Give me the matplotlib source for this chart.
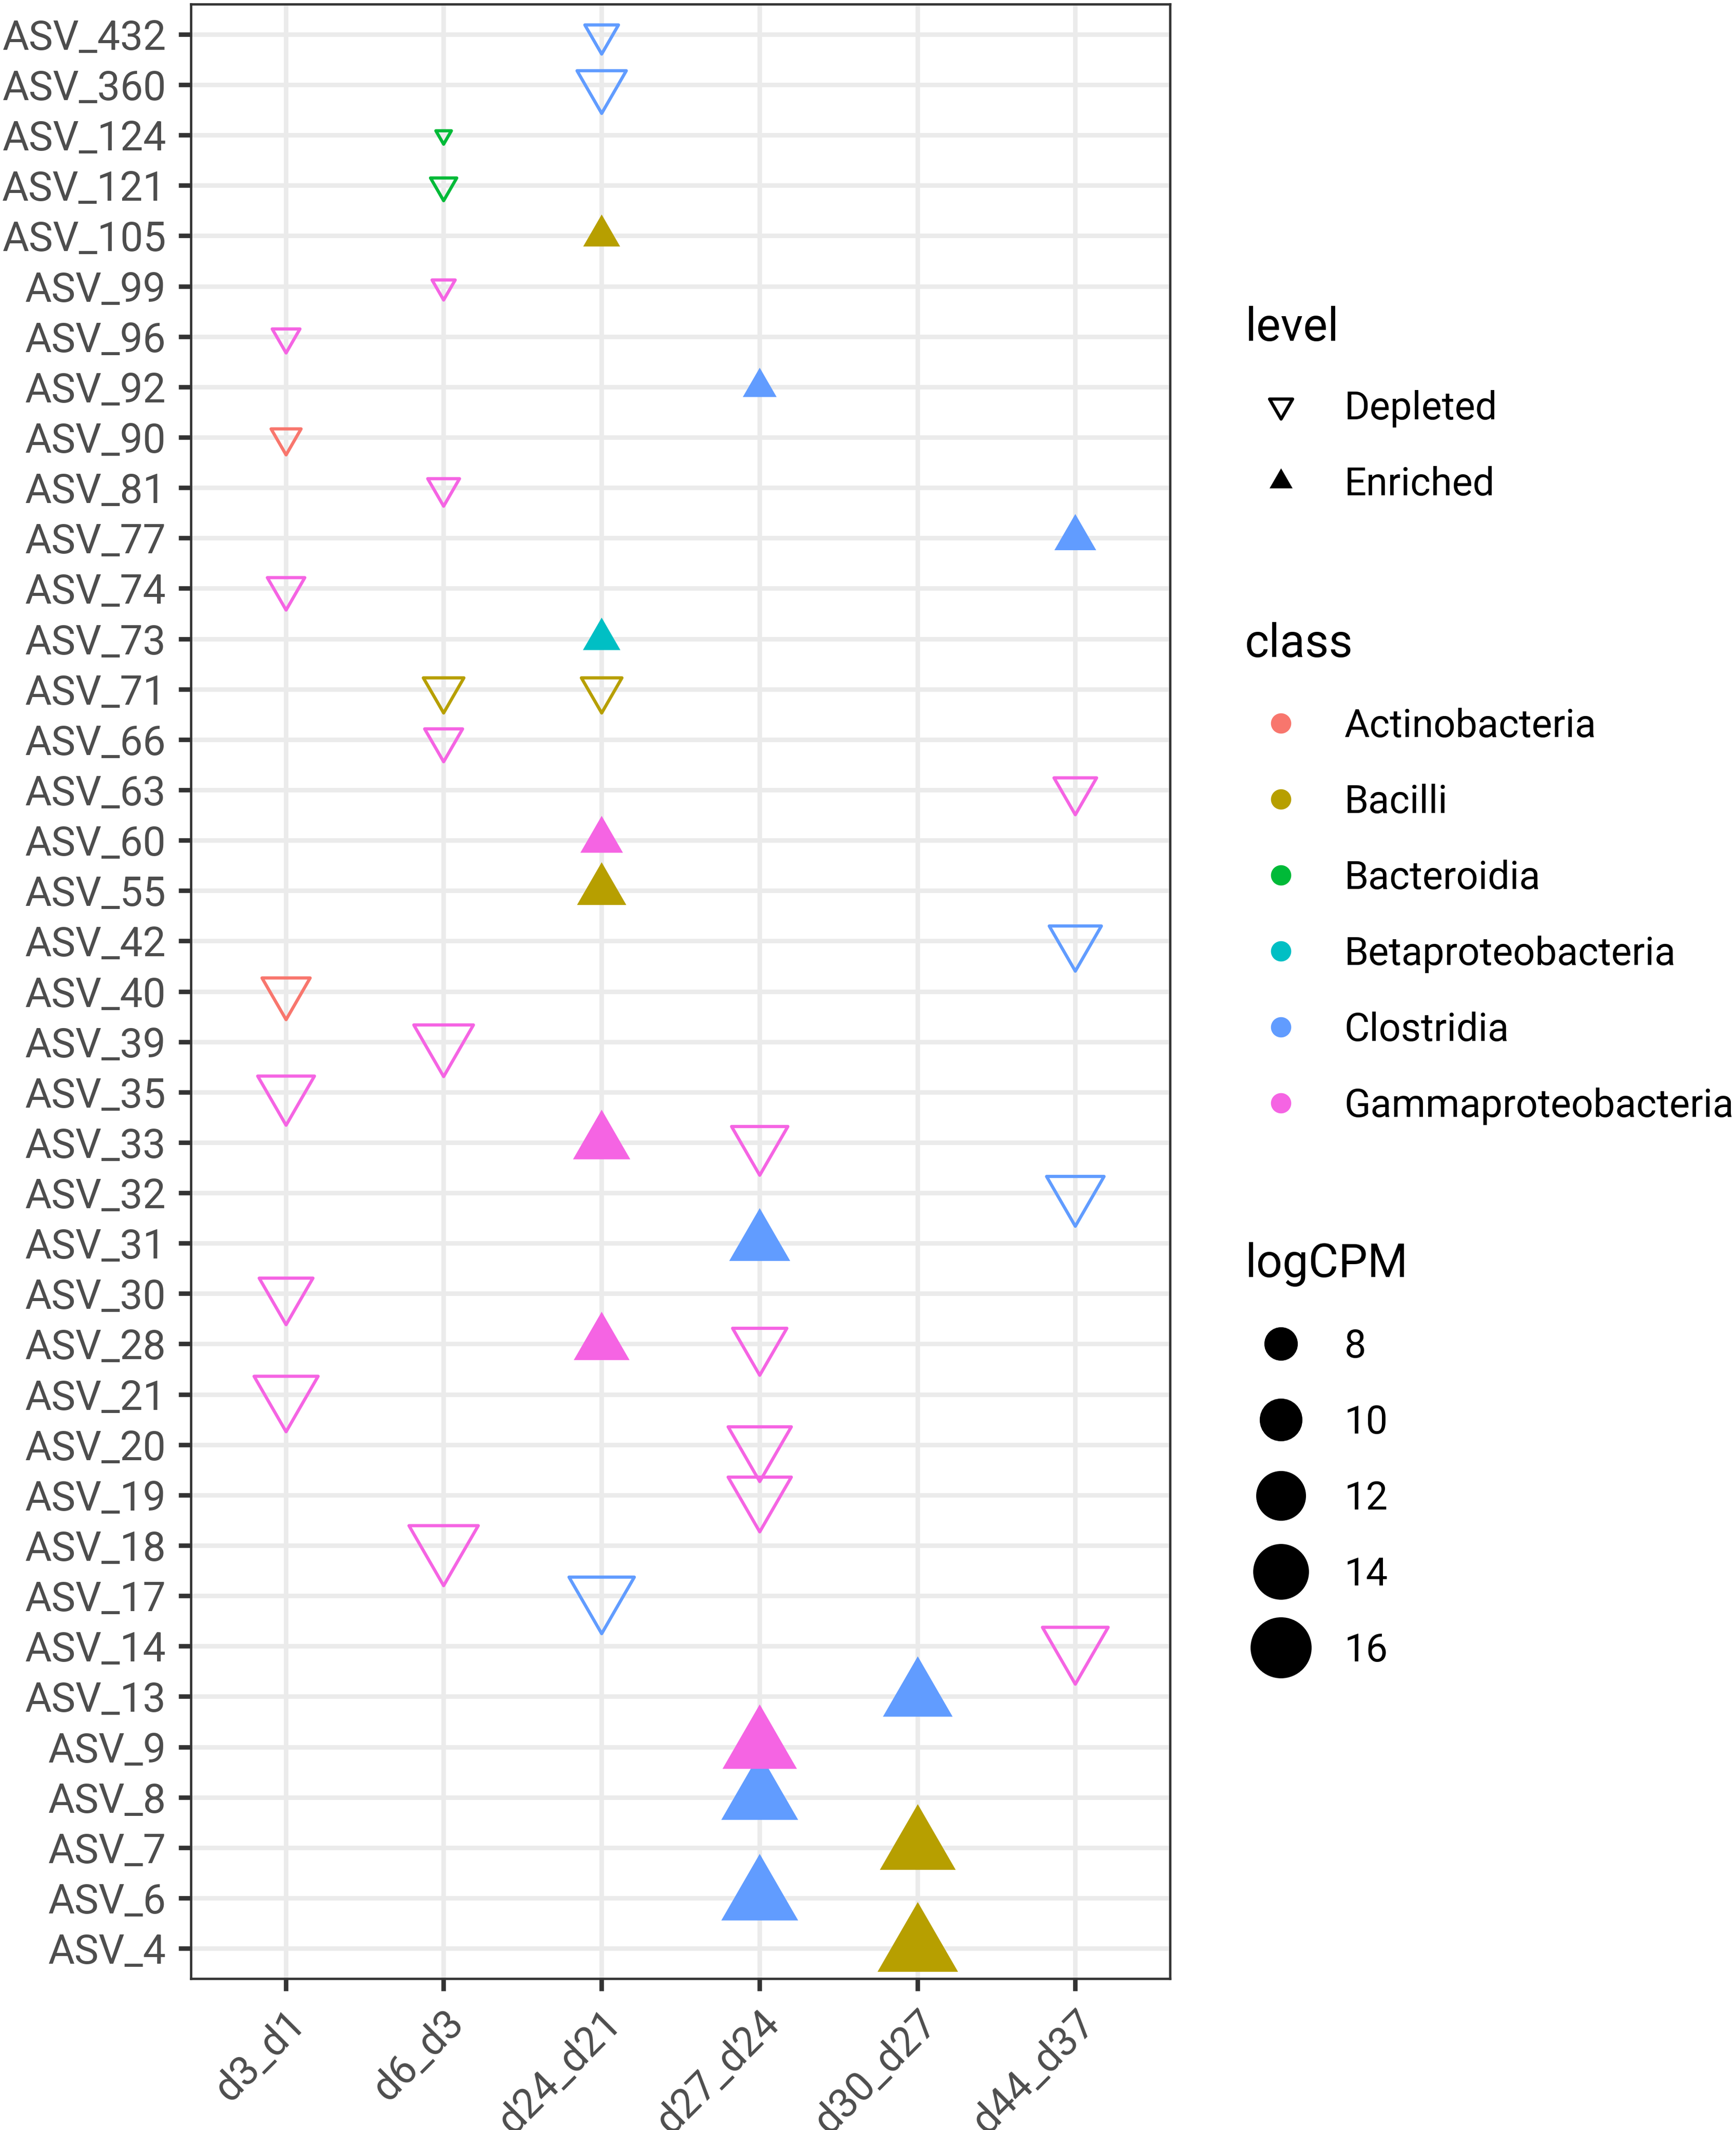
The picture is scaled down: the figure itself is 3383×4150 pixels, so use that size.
import numpy as np
import matplotlib
matplotlib.use("Agg")
import matplotlib.pyplot as plt
from matplotlib.path import Path
from matplotlib.markers import MarkerStyle

plt.rcParams['font.family'] = ['Roboto', 'DejaVu Sans']

W_PX, H_PX, DPI = 3383, 4150, 300
PX2PT = 72 / DPI

# categories
contrasts = ['d3_d1', 'd6_d3', 'd24_d21', 'd27_d24', 'd30_d27', 'd44_d37']
asv_order = ['ASV_4', 'ASV_6', 'ASV_7', 'ASV_8', 'ASV_9', 'ASV_13', 'ASV_14',
             'ASV_17', 'ASV_18', 'ASV_19', 'ASV_20', 'ASV_21', 'ASV_28',
             'ASV_30', 'ASV_31', 'ASV_32', 'ASV_33', 'ASV_35', 'ASV_39',
             'ASV_40', 'ASV_42', 'ASV_55', 'ASV_60', 'ASV_63', 'ASV_66',
             'ASV_71', 'ASV_73', 'ASV_74', 'ASV_77', 'ASV_81', 'ASV_90',
             'ASV_92', 'ASV_96', 'ASV_99', 'ASV_105', 'ASV_121', 'ASV_124',
             'ASV_360', 'ASV_432']
classes = ['Actinobacteria', 'Bacilli', 'Bacteroidia', 'Betaproteobacteria',
           'Clostridia', 'Gammaproteobacteria']
class_colors = ['#F8766D', '#B79F00', '#00BA38', '#00BFC4', '#619CFF', '#F564E3']
levels = ['Depleted', 'Enriched']
size_breaks = [8, 10, 12, 14, 16]

# one entry per point
asv = ['ASV_4', 'ASV_6', 'ASV_7', 'ASV_8', 'ASV_9', 'ASV_13', 'ASV_14',
       'ASV_17', 'ASV_18', 'ASV_19', 'ASV_20', 'ASV_21', 'ASV_28', 'ASV_28',
       'ASV_30', 'ASV_31', 'ASV_32', 'ASV_33', 'ASV_33', 'ASV_35', 'ASV_39',
       'ASV_40', 'ASV_42', 'ASV_55', 'ASV_60', 'ASV_63', 'ASV_66', 'ASV_71',
       'ASV_71', 'ASV_73', 'ASV_74', 'ASV_77', 'ASV_81', 'ASV_90', 'ASV_92',
       'ASV_96', 'ASV_99', 'ASV_105', 'ASV_121', 'ASV_124', 'ASV_360', 'ASV_432']
contrast = ['d30_d27', 'd27_d24', 'd30_d27', 'd27_d24', 'd27_d24', 'd30_d27',
            'd44_d37', 'd24_d21', 'd6_d3', 'd27_d24', 'd27_d24', 'd3_d1',
            'd24_d21', 'd27_d24', 'd3_d1', 'd27_d24', 'd44_d37', 'd24_d21',
            'd27_d24', 'd3_d1', 'd6_d3', 'd3_d1', 'd44_d37', 'd24_d21',
            'd24_d21', 'd44_d37', 'd6_d3', 'd6_d3', 'd24_d21', 'd24_d21',
            'd3_d1', 'd44_d37', 'd6_d3', 'd3_d1', 'd27_d24', 'd3_d1', 'd6_d3',
            'd24_d21', 'd6_d3', 'd6_d3', 'd24_d21', 'd24_d21']
level = ['Enriched', 'Enriched', 'Enriched', 'Enriched', 'Enriched', 'Enriched',
         'Depleted', 'Depleted', 'Depleted', 'Depleted', 'Depleted', 'Depleted',
         'Enriched', 'Depleted', 'Depleted', 'Enriched', 'Depleted', 'Enriched',
         'Depleted', 'Depleted', 'Depleted', 'Depleted', 'Depleted', 'Enriched',
         'Enriched', 'Depleted', 'Depleted', 'Depleted', 'Depleted', 'Enriched',
         'Depleted', 'Enriched', 'Depleted', 'Depleted', 'Enriched', 'Depleted',
         'Depleted', 'Enriched', 'Depleted', 'Depleted', 'Depleted', 'Depleted']
taxon = ['Bacilli', 'Clostridia', 'Bacilli', 'Clostridia', 'Gammaproteobacteria',
         'Clostridia', 'Gammaproteobacteria', 'Clostridia', 'Gammaproteobacteria',
         'Gammaproteobacteria', 'Gammaproteobacteria', 'Gammaproteobacteria',
         'Gammaproteobacteria', 'Gammaproteobacteria', 'Gammaproteobacteria',
         'Clostridia', 'Clostridia', 'Gammaproteobacteria', 'Gammaproteobacteria',
         'Gammaproteobacteria', 'Gammaproteobacteria', 'Actinobacteria',
         'Clostridia', 'Bacilli', 'Gammaproteobacteria', 'Gammaproteobacteria',
         'Gammaproteobacteria', 'Bacilli', 'Bacilli', 'Betaproteobacteria',
         'Gammaproteobacteria', 'Clostridia', 'Gammaproteobacteria',
         'Actinobacteria', 'Clostridia', 'Gammaproteobacteria',
         'Gammaproteobacteria', 'Bacilli', 'Bacteroidia', 'Bacteroidia',
         'Clostridia', 'Clostridia']
logcpm = [16.8, 15.7, 15.4, 15.7, 15.0, 13.7, 12.7, 12.6, 13.6, 12.1, 12.1, 12.3,
          10.5, 10.2, 10.1, 11.6, 10.85, 10.8, 10.6, 10.7, 11.3, 9.1, 9.8, 9.3,
          8.25, 8.25, 7.64, 7.97, 7.97, 7.58, 7.58, 8.14, 6.98, 6.82, 7.18, 6.64,
          6.34, 7.52, 6.53, 6.05, 9.29, 7.16]


# symbol size scale: logCPM -> symbol diameter (px), sqrt (area) scale
def sym_px(v):
    return 15.6 + 30.7 * np.sqrt(np.clip(v - 6.0, 0, None))


TRC0 = np.sqrt(4 * np.pi / (3 * np.sqrt(3)))  # R's triangle radius factor
STROKE = 6.2 * PX2PT
s3 = np.sqrt(3) / 2
codes = [Path.MOVETO, Path.LINETO, Path.LINETO, Path.CLOSEPOLY]
tri_up = MarkerStyle(Path([(0, 1), (-s3, -0.5), (s3, -0.5), (0, 1)], codes), joinstyle='round')
tri_down = MarkerStyle(Path([(0, -1), (s3, 0.5), (-s3, 0.5), (0, -1)], codes), joinstyle='round')


def draw_symbol(ax, x, y, lev, color, diam_px, z=3):
    ms = TRC0 * diam_px * PX2PT
    if lev == 'Enriched':
        ax.plot(x, y, marker=tri_up, ms=ms, mfc=color, mec=color, mew=0,
                ls='none', zorder=z, clip_on=False)
    else:
        ax.plot(x, y, marker=tri_down, ms=ms, mfc='none', mec=color, mew=STROKE,
                ls='none', zorder=z, clip_on=False)


fig = plt.figure(figsize=(W_PX / DPI, H_PX / DPI), dpi=DPI)
ax = fig.add_axes([372 / W_PX, 1 - 3855 / H_PX, (2280 - 372) / W_PX, (3855 - 8) / H_PX])

xpos = {c: i for i, c in enumerate(contrasts)}
ypos = {a: i for i, a in enumerate(asv_order)}
cmap = dict(zip(classes, class_colors))

for i in range(len(asv)):
    draw_symbol(ax, xpos[contrast[i]], ypos[asv[i]], level[i], cmap[taxon[i]],
                sym_px(logcpm[i]), z=3 + i * 0.01)

ax.set_xlim(-0.6, len(contrasts) - 0.4)
ax.set_ylim(-0.6, len(asv_order) - 0.4)
ax.set_xticks(range(len(contrasts)), contrasts)
ax.set_yticks(range(len(asv_order)), asv_order)
ax.grid(True, color='#EBEBEB', lw=2.1)
ax.set_axisbelow(True)
for sp in ax.spines.values():
    sp.set_color('#333333')
    sp.set_linewidth(1.1)
ax.tick_params(axis='both', colors='#333333', labelcolor='#4D4D4D',
               labelsize=19.1, length=5.76, width=2.1, pad=5.76)
plt.setp(ax.get_xticklabels(), rotation=45, ha='right', va='top',
         rotation_mode='anchor')

# legends, drawn in pixel coordinates
lax = fig.add_axes([0, 0, 1, 1], zorder=10)
lax.set_xlim(0, W_PX)
lax.set_ylim(H_PX, 0)
lax.axis('off')

TITLE_X, KEY_X, LAB_X = 2426, 2496, 2620
TITLE_FS, LAB_FS = 21.6, 18.2
STEP = 148
cap_off = 0.711 * LAB_FS / PX2PT / 2


def legend_label(y, text):
    lax.text(LAB_X, y + cap_off, text, fontsize=LAB_FS, color='black',
             ha='left', va='baseline')


lax.text(TITLE_X, 664, 'level', fontsize=TITLE_FS, ha='left', va='baseline')
for k, lev in enumerate(levels):
    y = 790 + k * STEP
    draw_symbol(lax, KEY_X, y, lev, 'black', 33.4, z=11)
    legend_label(y, lev)

lax.text(TITLE_X, 1280, 'class', fontsize=TITLE_FS, ha='left', va='baseline')
for k, (cl, col) in enumerate(zip(classes, class_colors)):
    y = 1409 + k * STEP
    lax.plot(KEY_X, y, 'o', ms=33.4 * PX2PT, mfc=col, mec=col, mew=STROKE)
    legend_label(y, cl)

lax.text(TITLE_X, 2488, 'logCPM', fontsize=TITLE_FS, ha='left', va='baseline')
for k, b in enumerate(size_breaks):
    y = 2618 + k * STEP
    lax.plot(KEY_X, y, 'o', ms=sym_px(b) * PX2PT, mfc='black', mec='black', mew=STROKE)
    legend_label(y, str(b))

fig.savefig('out.png', dpi=DPI, facecolor='white')
